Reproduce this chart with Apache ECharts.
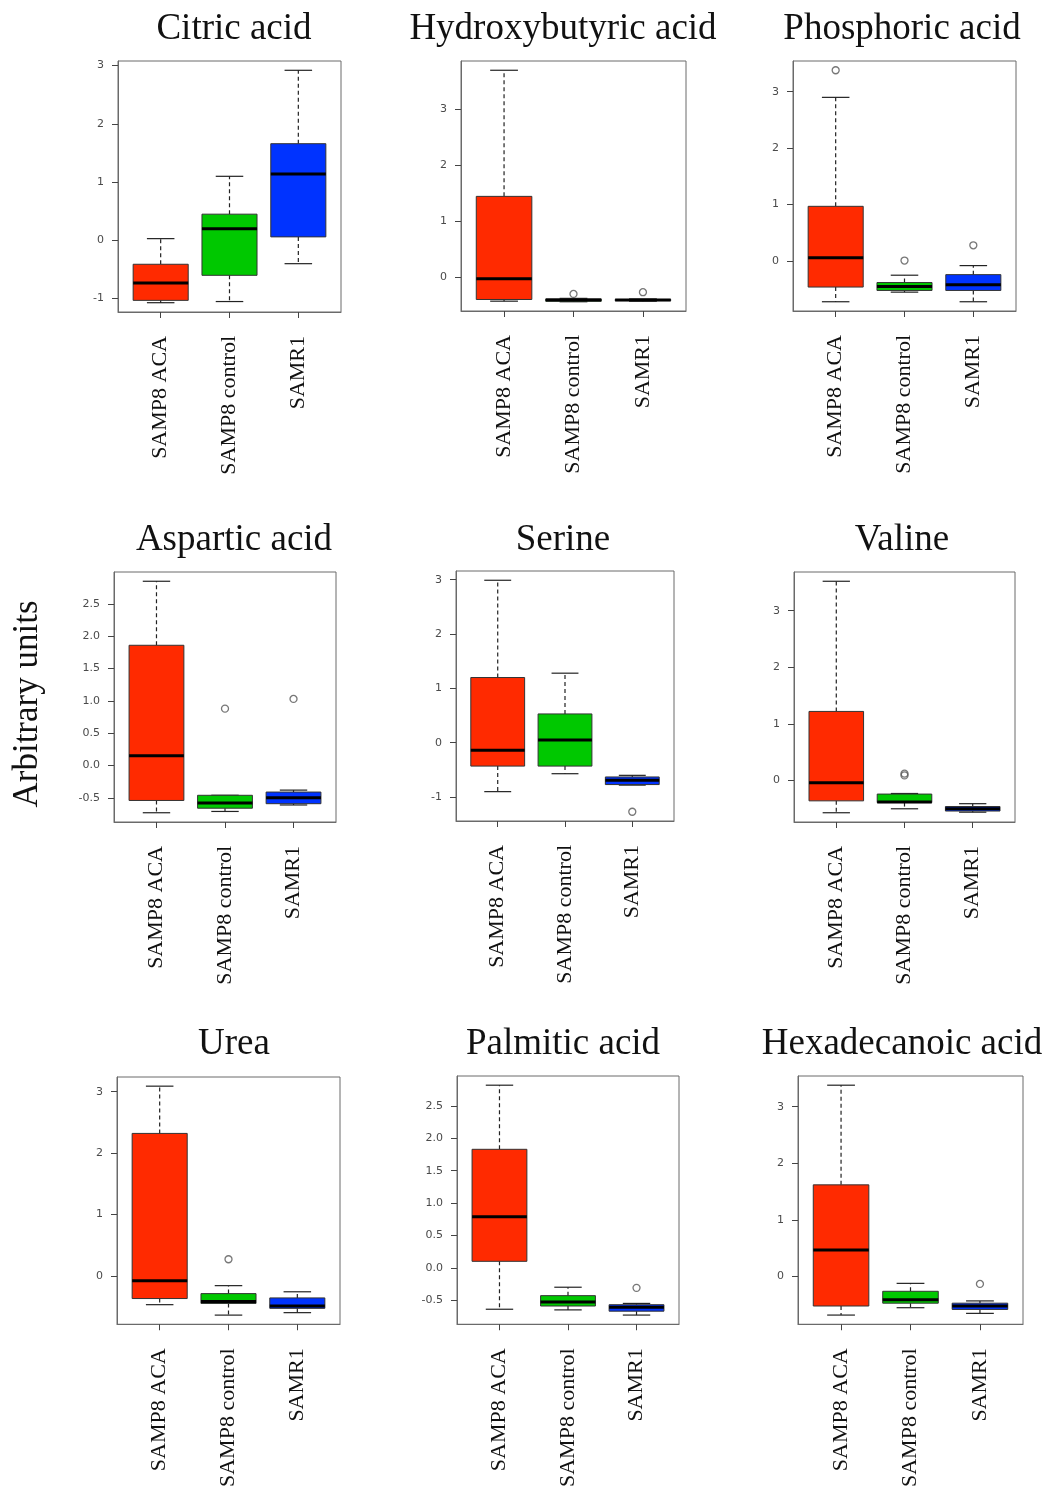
<!DOCTYPE html>
<html>
<head>
<meta charset="utf-8">
<title>Metabolite levels by group</title>
<script src="https://cdn.jsdelivr.net/npm/echarts@6/dist/echarts.min.js"></script>
<style>
  html, body { margin: 0; padding: 0; background: #ffffff; }
  #chart { width: 1048px; height: 1490px; }
</style>
</head>
<body>
<div id="chart"></div>
<script>
// Groups on every x axis
const groups = ['SAMP8 ACA', 'SAMP8 control', 'SAMR1'];
const groupColors = ['#ff2a00', '#00c800', '#0033ff'];

// Panel titles, row by row
const titles = [
  'Citric acid', 'Hydroxybutyric acid', 'Phosphoric acid',
  'Aspartic acid', 'Serine', 'Valine',
  'Urea', 'Palmitic acid', 'Hexadecanoic acid'
];

// Box statistics per group: [lower whisker, Q1, median, Q3, upper whisker]
const citricStats = [[-1.07, -1.03, -0.73, -0.41, 0.03], [-1.05, -0.60, 0.20, 0.45, 1.10], [-0.40, 0.06, 1.14, 1.66, 2.92]];
const hydroxyStats = [[-0.42, -0.39, -0.02, 1.45, 3.70], [-0.43, -0.42, -0.40, -0.38, -0.37], [-0.42, -0.41, -0.40, -0.39, -0.38]];
const phosphoricStats = [[-0.72, -0.46, 0.06, 0.97, 2.90], [-0.55, -0.52, -0.45, -0.38, -0.25], [-0.72, -0.52, -0.42, -0.24, -0.08]];
const asparticStats = [[-0.73, -0.54, 0.15, 1.86, 2.85], [-0.71, -0.66, -0.58, -0.46, -0.46], [-0.61, -0.59, -0.50, -0.41, -0.38]];
const serineStats = [[-0.90, -0.43, -0.14, 1.20, 2.99], [-0.57, -0.43, 0.05, 0.53, 1.28], [-0.78, -0.77, -0.69, -0.63, -0.60]];
const valineStats = [[-0.57, -0.36, -0.04, 1.22, 3.52], [-0.50, -0.39, -0.38, -0.24, -0.23], [-0.56, -0.54, -0.50, -0.46, -0.41]];
const ureaStats = [[-0.47, -0.37, -0.08, 2.32, 3.09], [-0.64, -0.45, -0.42, -0.29, -0.16], [-0.60, -0.53, -0.49, -0.36, -0.26]];
const palmiticStats = [[-0.64, 0.10, 0.79, 1.83, 2.82], [-0.65, -0.59, -0.53, -0.43, -0.30], [-0.73, -0.67, -0.61, -0.57, -0.55]];
const hexadecanoicStats = [[-0.68, -0.52, 0.47, 1.62, 3.38], [-0.55, -0.47, -0.41, -0.26, -0.12], [-0.65, -0.58, -0.52, -0.47, -0.43]];

// Outliers per group
const citricOut = [[], [], []];
const hydroxyOut = [[], [-0.29], [-0.26]];
const phosphoricOut = [[3.38], [0.01], [0.28]];
const asparticOut = [[], [0.88], [1.03]];
const serineOut = [[], [], [-1.27]];
const valineOut = [[], [0.09, 0.12], []];
const ureaOut = [[], [0.27], []];
const palmiticOut = [[], [], [-0.31]];
const hexadecanoicOut = [[], [], [-0.13]];

// Y tick labels per panel
const ticksInt3 = [0, 1, 2, 3];
const ticksInt4 = [-1, 0, 1, 2, 3];
const ticksHalf = [-0.5, 0.0, 0.5, 1.0, 1.5, 2.0, 2.5];

const panelStats = [citricStats, hydroxyStats, phosphoricStats, asparticStats, serineStats, valineStats, ureaStats, palmiticStats, hexadecanoicStats];
const panelOut = [citricOut, hydroxyOut, phosphoricOut, asparticOut, serineOut, valineOut, ureaOut, palmiticOut, hexadecanoicOut];
const panelTicks = [ticksInt4, ticksInt3, ticksInt3, ticksHalf, ticksInt4, ticksInt3, ticksInt3, ticksHalf, ticksInt3];

// Plot frames: [left, top, width, height]
const frames = [
  [118, 61, 223, 251], [461, 61, 225, 250], [793, 61, 223, 250],
  [114, 572, 222, 250], [456, 571, 218, 250], [794, 572, 221, 250],
  [117, 1077, 223, 250], [457, 1076, 222, 250], [798, 1076, 225, 250]
];
const titleCenters = [229, 558, 897];
const titleRowsY = [6, 517, 1021];

const serif = '"Liberation Serif", "Times New Roman", serif';

function renderBox(params, api) {
  const x = api.value(0);
  const lo = api.value(1), q1 = api.value(2), md = api.value(3), q3 = api.value(4), hi = api.value(5);
  const halfBox = 0.4, halfCap = 0.2;
  const p = (a, b) => api.coord([a, b]);
  const color = groupColors[Math.round(x) - 1];
  const wStyle = { stroke: '#222', lineWidth: 1.2, lineDash: [4, 3] };
  const cStyle = { stroke: '#222', lineWidth: 1.2 };
  const seg = (a, b, style) => ({
    type: 'line',
    shape: { x1: a[0], y1: a[1], x2: b[0], y2: b[1] },
    style: style
  });
  const tl = p(x - halfBox, q3), br = p(x + halfBox, q1);
  return {
    type: 'group',
    children: [
      seg(p(x, q3), p(x, hi), wStyle),
      seg(p(x, q1), p(x, lo), wStyle),
      seg(p(x - halfCap, hi), p(x + halfCap, hi), cStyle),
      seg(p(x - halfCap, lo), p(x + halfCap, lo), cStyle),
      {
        type: 'rect',
        shape: { x: tl[0], y: tl[1], width: br[0] - tl[0], height: Math.max(br[1] - tl[1], 1) },
        style: { fill: color, stroke: '#333', lineWidth: 1 }
      },
      seg(p(x - halfBox, md), p(x + halfBox, md), { stroke: '#000', lineWidth: 3 })
    ]
  };
}

const grid = [], xAxis = [], yAxis = [], series = [], title = [];

panelStats.forEach((stats, i) => {
  const f = frames[i];
  const outs = panelOut[i];
  // y range: data extent padded by 4% on both sides
  const all = stats.flat().concat(outs.flat());
  const lo = Math.min(...all), hi = Math.max(...all);
  const pad = (hi - lo) * 0.04;
  const ticks = panelTicks[i];
  const half = ticks === ticksHalf;

  grid.push({
    left: f[0], top: f[1], width: f[2], height: f[3],
    show: true, borderColor: '#6a6a6a', borderWidth: 1, backgroundColor: 'transparent'
  });
  xAxis.push({
    gridIndex: i, type: 'value', min: 0.38, max: 3.62,
    splitLine: { show: false },
    axisLine: { show: true, onZero: false, lineStyle: { color: '#6a6a6a', width: 1 } },
    axisTick: { show: true, length: 6, customValues: [1, 2, 3], lineStyle: { color: '#444' } },
    axisLabel: {
      show: true, customValues: [1, 2, 3], rotate: 90, margin: 24,
      fontFamily: serif, fontSize: 22, color: '#111',
      formatter: v => groups[Math.round(v) - 1]
    }
  });
  yAxis.push({
    gridIndex: i, type: 'value', min: lo - pad, max: hi + pad,
    splitLine: { show: false },
    axisLine: { show: true, onZero: false, lineStyle: { color: '#6a6a6a', width: 1 } },
    axisTick: { show: true, length: 6, customValues: ticks, lineStyle: { color: '#444' } },
    axisLabel: {
      show: true, customValues: ticks, margin: 14,
      fontFamily: '"DejaVu Sans", Verdana, sans-serif', fontSize: 11, color: '#4a4a4a',
      formatter: v => half ? Number(v).toFixed(1) : String(Math.round(v))
    }
  });
  series.push({
    type: 'custom', xAxisIndex: i, yAxisIndex: i, clip: false,
    renderItem: renderBox,
    encode: { x: 0, y: [1, 2, 3, 4, 5] },
    data: stats.map((s, g) => [g + 1].concat(s)),
    silent: true
  });
  const outData = [];
  outs.forEach((vals, g) => vals.forEach(v => outData.push([g + 1, v])));
  series.push({
    type: 'scatter', xAxisIndex: i, yAxisIndex: i,
    symbol: 'circle', symbolSize: 7,
    itemStyle: { color: 'transparent', borderColor: '#555', borderWidth: 1.3 },
    data: outData, silent: true
  });
  title.push({
    text: titles[i],
    left: titleCenters[i % 3], top: titleRowsY[Math.floor(i / 3)],
    textAlign: 'center',
    textStyle: { fontFamily: serif, fontSize: 37, fontWeight: 'normal', color: '#111' }
  });
});

const chart = echarts.init(document.getElementById('chart'), null, { renderer: 'canvas' });
chart.setOption({
  animation: false,
  backgroundColor: '#ffffff',
  title: title,
  grid: grid,
  xAxis: xAxis,
  yAxis: yAxis,
  series: series,
  graphic: [{
    type: 'text',
    x: 28, y: 704, rotation: Math.PI / 2,
    style: {
      text: 'Arbitrary units', fontFamily: serif, fontSize: 35, fill: '#111',
      align: 'center', verticalAlign: 'middle'
    }
  }]
});
</script>
</body>
</html>
